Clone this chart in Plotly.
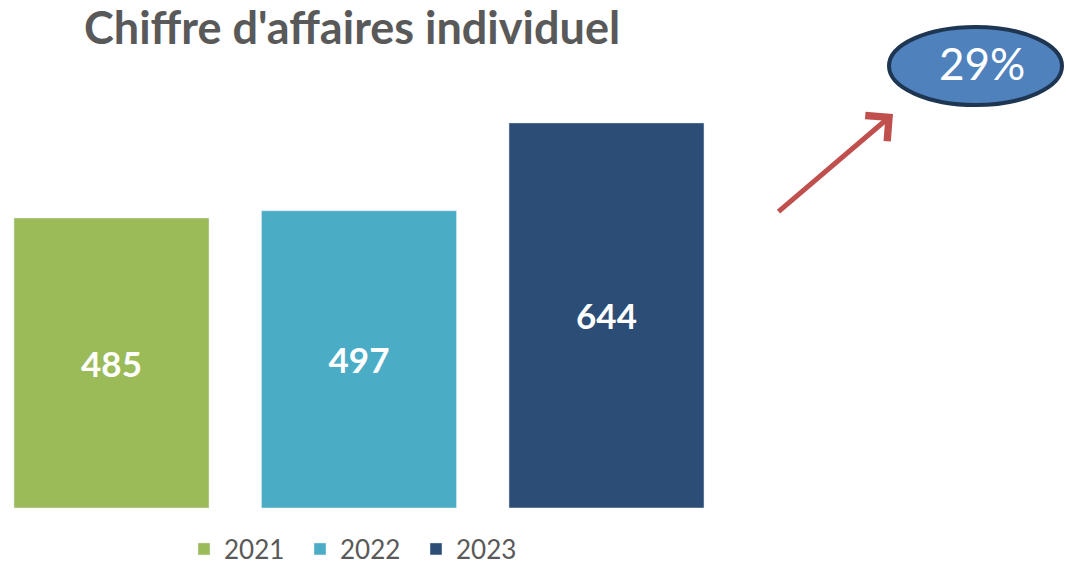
import plotly.graph_objects as go

years = ["2021", "2022", "2023"]
values = [485, 497, 644]
colors = ["#9BBB59", "#4BACC6", "#2C4D75"]
title_text = "Chiffre d'affaires individuel"
growth_label = "29%"

W, H = 1066, 564
mt, mb = 100, 56
plot_h = H - mt - mb
ymax = plot_h / 0.598

def py(px):  # pixel y -> paper y
    return (H - mb - px) / plot_h

def pxx(px):
    return px / W

fig = go.Figure()
for yr, v, c in zip(years, values, colors):
    fig.add_trace(go.Bar(
        x=[yr], y=[v], name=yr, marker_color=c, width=0.788,
        text=[str(v)], textposition="inside", insidetextanchor="middle",
        textfont=dict(family="Lato", size=35, color="white", weight="bold"),
        cliponaxis=False,
    ))

fig.update_layout(
    width=W, height=H,
    margin=dict(l=0, r=0, t=mt, b=mb, autoexpand=False),
    paper_bgcolor="white", plot_bgcolor="white",
    barmode="overlay",
    showlegend=True,
    legend=dict(orientation="h", x=358 / W, xanchor="center", y=py(549), yanchor="middle",
                font=dict(family="Lato", size=26, color="#595959"), itemwidth=30,
                entrywidth=71, traceorder="normal"),
    title=dict(text=title_text, xref="container", x=84 / W, xanchor="left",
               yref="container", y=1 - 28 / H, yanchor="middle",
               font=dict(family="Lato", size=45, color="#595959", weight="bold")),
    xaxis=dict(visible=False, range=[-0.4505, 3.8566], type="category",
               categoryorder="array", categoryarray=years),
    yaxis=dict(visible=False, range=[0, ymax]),
    uniformtext=dict(mode=False),
)

fig.add_shape(type="circle", xref="paper", yref="paper",
              x0=pxx(889), x1=pxx(1062), y0=py(105), y1=py(27),
              fillcolor="#4F81BD", line=dict(color="#1F3653", width=4))
fig.add_annotation(xref="paper", yref="paper", x=pxx(982), y=py(63), text=growth_label,
                   xanchor="center", yanchor="middle",
                   showarrow=False, font=dict(family="Lato", size=44, color="white"))
fig.add_annotation(xref="paper", yref="paper", x=pxx(893), y=py(114), text="",
                   showarrow=True, ax=777 - 893, ay=213 - 114, arrowhead=4, arrowsize=1.3,
                   arrowwidth=5, arrowcolor="#C0504D")

fig.write_html("out.html", config={"displayModeBar": False},
               post_script="document.body.style.margin='0';")
